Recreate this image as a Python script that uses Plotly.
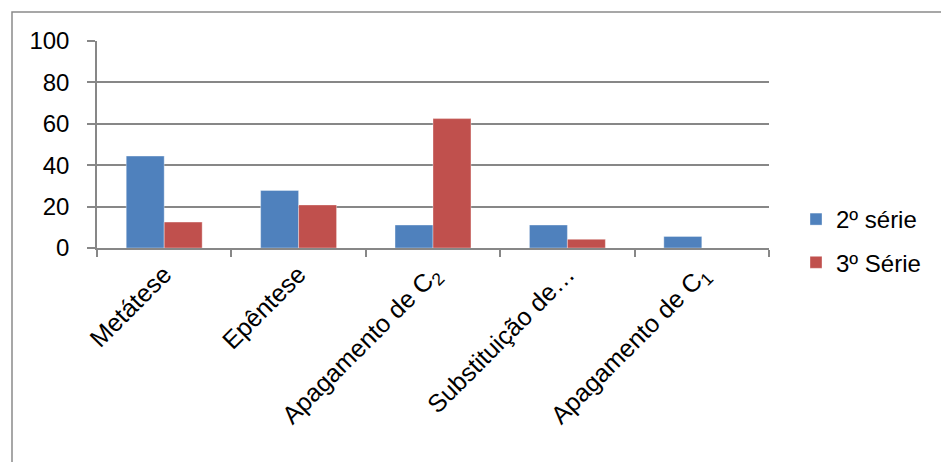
import plotly.graph_objects as go

categories = ["Metátese", "Epêntese", "Apagamento de C<sub>2</sub>",
              "Substituição de…", "Apagamento de C<sub>1</sub>"]
serie_2 = [44.4, 27.8, 11.1, 11.1, 5.6]
serie_3 = [12.5, 20.8, 62.5, 4.2, 0]
y_ticks = [0, 20, 40, 60, 80, 100]

W, H = 941, 462
L, R, T, B = 97, 172, 41, 214
pw, ph = W - L - R, H - T - B

def px_x(x):
    return (x - L) / pw

def px_y(y):
    return (H - B - y) / ph

GRID = "#878787"
FONT = "Liberation Sans, Arial, sans-serif"

fig = go.Figure()
fig.add_trace(go.Bar(x=categories, y=serie_2, name="2º série",
                     marker=dict(color="#4F81BD", line=dict(color="rgba(255,255,255,0.45)", width=0.8)),
                     legendgroup="a"))
fig.add_trace(go.Bar(x=categories, y=serie_3, name="3º Série",
                     marker=dict(color="#C0504D", line=dict(color="rgba(255,255,255,0.45)", width=0.8)),
                     legendgroup="b"))

fig.update_layout(
    width=W, height=H,
    margin=dict(l=L, r=R, t=T, b=B, pad=0),
    paper_bgcolor="white", plot_bgcolor="white",
    barmode="group", bargap=0.435, bargroupgap=0,
    font=dict(family=FONT, color="black"),
    showlegend=True,
    legend=dict(x=px_x(796), y=px_y(197), xanchor="left", yanchor="top",
                font=dict(size=24, family=FONT), tracegroupgap=9,
                itemwidth=30, bgcolor="rgba(0,0,0,0)"),
    xaxis=dict(showline=True, linecolor=GRID, linewidth=1.5,
               ticks="outside", tickson="boundaries", ticklen=7, tickcolor=GRID, tickwidth=1.5,
               tickangle=-45, tickfont=dict(size=25, family=FONT), showgrid=False),
    yaxis=dict(range=[0, 100], tickvals=y_ticks, showline=True, linecolor=GRID, linewidth=1.5,
               ticks="outside", ticklen=8, tickcolor=GRID, tickwidth=1.5,
               showgrid=True, gridcolor=GRID, gridwidth=1.5, zeroline=False,
               tickfont=dict(size=24, family=FONT), ticklabelstandoff=13),
    shapes=[dict(type="rect", xref="paper", yref="paper",
                 x0=px_x(12), x1=px_x(960), y0=px_y(480), y1=px_y(12),
                 line=dict(color="#8a8a8a", width=1.5), fillcolor="rgba(0,0,0,0)", layer="below")],
)

fig.write_html("out.html")
